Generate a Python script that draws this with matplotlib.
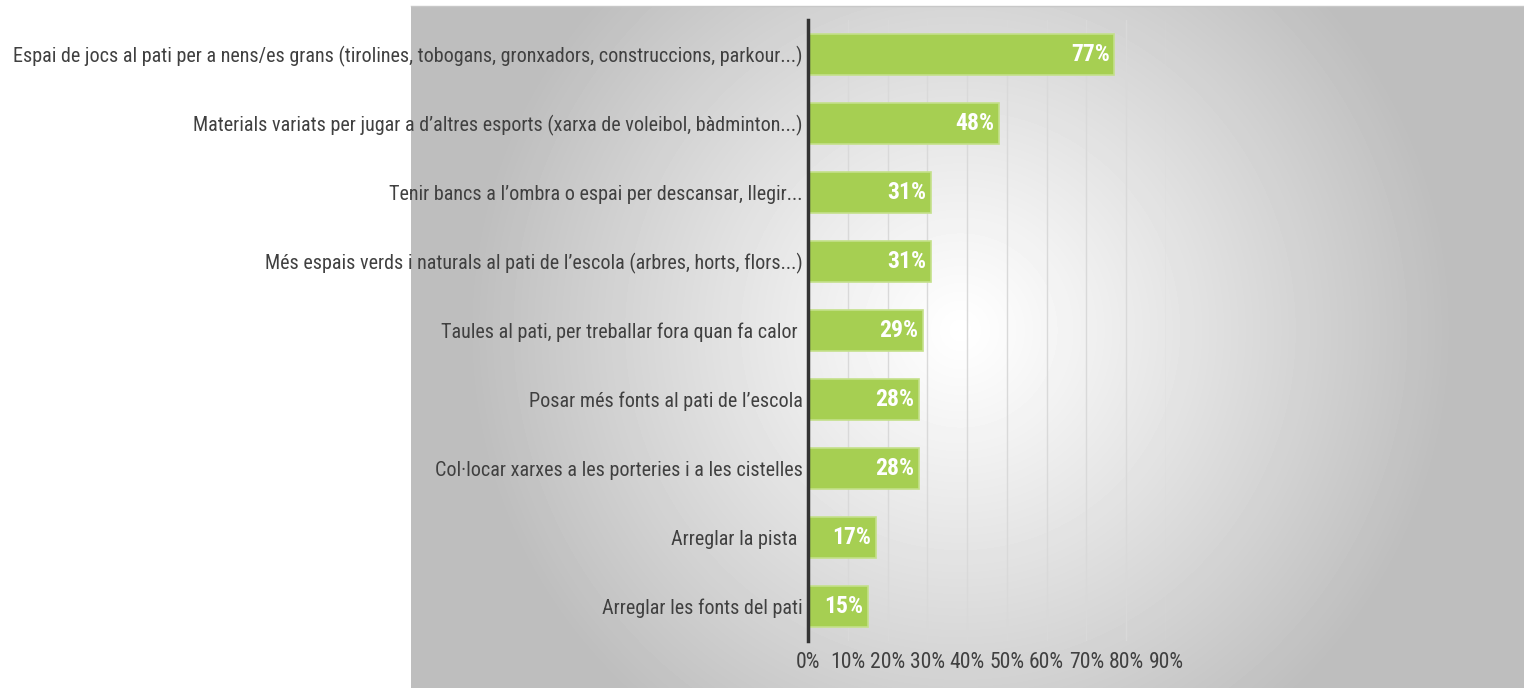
import numpy as np
import matplotlib
matplotlib.use("Agg")
import matplotlib.pyplot as plt
from matplotlib import font_manager

# -----------------------------------
# Data (top to bottom as in the picture)
# -----------------------------------
categories = [
    "Espai de jocs al pati per a nens/es grans (tirolines, tobogans, gronxadors, construccions, parkour...)",
    "Materials variats per jugar a d\u2019altres esports (xarxa de voleibol, b\u00e0dminton...)",
    "Tenir bancs a l\u2019ombra o espai per descansar, llegir...",
    "M\u00e9s espais verds i naturals al pati de l\u2019escola (arbres, horts, flors...)",
    "Taules al pati, per treballar fora quan fa calor ",
    "Posar m\u00e9s fonts al pati de l\u2019escola",
    "Col\u00b7locar xarxes a les porteries i a les cistelles",
    "Arreglar la pista ",
    "Arreglar les fonts del pati",
]
values = [0.77, 0.48, 0.31, 0.31, 0.29, 0.28, 0.28, 0.17, 0.15]
xticks = [0.0, 0.1, 0.2, 0.3, 0.4, 0.5, 0.6, 0.7, 0.8, 0.9]
xtick_labels = ["0%", "10%", "20%", "30%", "40%", "50%", "60%", "70%", "80%", "90%"]

# -----------------------------------
# Pick a narrow sans face (Arial Narrow look-alike)
# -----------------------------------
installed = {f.name for f in font_manager.fontManager.ttflist}
family = "DejaVu Sans"
for cand in ["Liberation Sans Narrow", "Arimo Narrow", "Roboto Condensed", "PT Sans Narrow",
             "Archivo Narrow", "Fira Sans Condensed", "DejaVu Sans Condensed"]:
    if cand in installed:
        family = cand
        break
plt.rcParams["font.family"] = [family, "DejaVu Sans"]

W, H = 1524, 688
fig = plt.figure(figsize=(W / 100, H / 100), dpi=100)
fig.patch.set_facecolor("white")

# size the text so the longest label spans like in the reference (~790 px)
probe = fig.text(0, 0, categories[0], fontsize=15)
w15 = probe.get_window_extent(renderer=fig.canvas.get_renderer()).width
probe.remove()
fs = min(16.0, 15 * 790.0 / w15)

# -----------------------------------
# Radial gradient background panel
# -----------------------------------
bg = fig.add_axes([411 / W, 0, 1 - 411 / W, (H - 6) / H], zorder=0)
xx, yy = np.meshgrid(np.arange(411, W), np.arange(6, H))
r = np.sqrt((xx - 960) ** 2 + (yy - 330) ** 2) / 490.0
r = np.clip(r, 0, 1)
shade = 1.0 - (1.0 - 0.745) * r ** 1.1
bg.imshow(shade, cmap="gray", vmin=0, vmax=1, aspect="auto",
          extent=(0, 1, 0, 1), interpolation="bilinear")
bg.set_axis_off()
fig.add_artist(plt.Line2D([411 / W, 1], [(H - 6) / H] * 2, color="#c8c8c8", lw=1))

# -----------------------------------
# Bar chart
# -----------------------------------
ax = fig.add_axes([808 / W, (H - 641) / H, (1166 - 808) / W, (641 - 20) / H], zorder=2)
ax.patch.set_alpha(0)
ypos = np.arange(len(categories))
bars = ax.barh(ypos, values, height=0.6, color="#a6cf52", edgecolor="#c4e08a",
               linewidth=1.2, zorder=3)
ax.set_ylim(len(categories) - 0.5, -0.5)
ax.set_xlim(0, 0.9)
ax.set_xticks(xticks)
ax.set_xticklabels(xtick_labels, fontsize=fs * 1.08, color="#404040")
ax.set_yticks(ypos)
ax.set_yticklabels(categories, fontsize=fs, color="#404040")
ax.tick_params(length=0, pad=4)
ax.tick_params(axis="x", pad=8)
ax.grid(axis="x", color="#d9d9d9", lw=1, zorder=1)
for s in ["top", "right", "bottom"]:
    ax.spines[s].set_visible(False)
ax.spines["left"].set_color("#333333")
ax.spines["left"].set_linewidth(2.5)
ax.spines["left"].set_zorder(4)

for b, v in zip(bars, values):
    ax.text(b.get_width() - 0.012, b.get_y() + b.get_height() / 2,
            f"{round(v * 100)}%", ha="right", va="center", color="white",
            fontsize=fs * 1.18, fontweight="bold", zorder=5)

fig.savefig("out.png", dpi=100)
